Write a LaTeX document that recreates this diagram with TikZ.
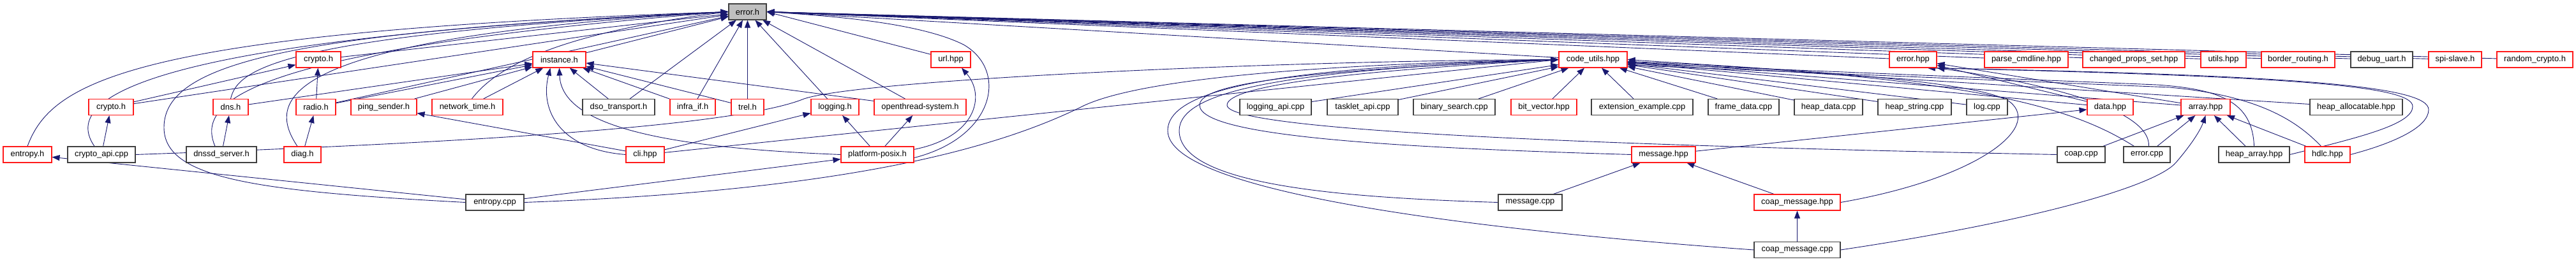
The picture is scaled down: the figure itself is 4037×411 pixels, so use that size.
\documentclass[tikz,border=0pt]{standalone}
\usepackage{fontspec}
\setmainfont{Liberation Sans}
\usetikzlibrary{arrows.meta,backgrounds}
\definecolor{edgeblue}{HTML}{191970}
\definecolor{truncred}{HTML}{FF1A1A}
\definecolor{boxgray}{HTML}{404040}
\definecolor{rootfill}{HTML}{BFBFBF}

\begin{document}
\begin{tikzpicture}[
    x=1pt, y=-1pt,
    font=\fontsize{12.9}{15}\selectfont,
    file/.style={draw=boxgray, fill=white, line width=1.1pt,
                 minimum height=25pt, inner sep=0pt},
    trunc/.style={file, draw=truncred},
    root/.style={file, fill=rootfill},
    dep/.style={edgeblue, line width=0.9pt, -{Triangle[length=12pt,width=9pt]}}
]
\useasboundingbox (0,0) rectangle (4037,411);

% root
\node[root, minimum width=59pt] (errorh) at (1171.5,18.5) {error.h};

% truncated files (red)
\foreach \id/\cx/\cy/\w/\txt in {
    cryptohB/499/93.5/70/crypto.h,
    instanceh/876.5/93.5/83/instance.h,
    urlhpp/1490/93.5/62/url.hpp,
    codeutils/2496.5/93.5/107/code\_utils.hpp,
    errorhpp/2998/93.5/74/error.hpp,
    parsecmd/3175.5/93.5/131/parse\_cmdline.hpp,
    changedprops/3344/93.5/160/changed\_props\_set.hpp,
    utilshpp/3484.5/93.5/71/utils.hpp,
    borderrouting/3601.5/93.5/115/border\_routing.h,
    spislave/3847.5/93.5/83/spi-slave.h,
    randomcrypto/3972.5/93.5/119/random\_crypto.h,
    cryptohA/174/168/70/crypto.h,
    dnsh/361.5/168/55/dns.h,
    radioh/495/168/62/radio.h,
    pingsender/601.5/168/103/ping\_sender.h,
    networktime/732.5/168/111/network\_time.h,
    infraif/1085.5/168/71/infra\_if.h,
    trelh/1171.5/168/51/trel.h,
    loggingh/1308.5/168/75/logging.h,
    otsystem/1442/168/144/openthread-system.h,
    bitvector/2419.5/168/103/bit\_vector.hpp,
    datahpp/3307/168/72/data.hpp,
    arrayhpp/3456.5/168/77/array.hpp,
    entropyh/43/242.5/76/entropy.h,
    diagh/474/242.5/58/diag.h,
    clihpp/1011/242.5/60/cli.hpp,
    posix/1375/242.5/114/platform-posix.h,
    messagehpp/2607/242.5/100/message.hpp,
    hdlchpp/3647.5/242.5/71/hdlc.hpp,
    coapmsghpp/2816.5/317.5/135/coap\_message.hpp}
    \node[trunc, minimum width=\w pt] (\id) at (\cx,\cy) {\txt};

% plain files
\foreach \id/\cx/\cy/\w/\txt in {
    debuguart/3732.5/93.5/97/debug\_uart.h,
    dsotransport/969.5/168/113/dso\_transport.h,
    loggingapi/1999/168/112/logging\_api.cpp,
    taskletapi/2135.5/168/111/tasklet\_api.cpp,
    binsearch/2279/168/128/binary\_search.cpp,
    extexample/2573.5/168/159/extension\_example.cpp,
    framedata/2732.5/168/111/frame\_data.cpp,
    heapdata/2865.5/168/107/heap\_data.cpp,
    heapstring/3000.5/168/115/heap\_string.cpp,
    logcpp/3114/168/64/log.cpp,
    heapalloc/3692.5/168/145/heap\_allocatable.hpp,
    cryptoapi/159/242.5/106/crypto\_api.cpp,
    dnssd/347/242.5/110/dnssd\_server.h,
    coapcpp/3261.5/242.5/75/coap.cpp,
    errorcpp/3364.5/242.5/73/error.cpp,
    heaparray/3532.5/242.5/111/heap\_array.hpp,
    entropycpp/775.5/317.5/91/entropy.cpp,
    messagecpp/2398/317.5/100/message.cpp,
    coapmsgcpp/2816.5/392/135/coap\_message.cpp}
    \node[file, minimum width=\w pt] (\id) at (\cx,\cy) {\txt};

\begin{scope}[on background layer]
% straight includes
\foreach \a/\b in {
    cryptohA/errorh, cryptohB/errorh, radioh/errorh, instanceh/errorh,
    dsotransport/errorh, infraif/errorh, trelh/errorh, loggingh/errorh,
    otsystem/errorh, urlhpp/errorh.east, codeutils/errorh.east,
    errorhpp/errorh.east, parsecmd/errorh.east, changedprops/errorh.east,
    utilshpp/errorh.east, borderrouting/errorh.east, debuguart/errorh.east,
    spislave/errorh.east, randomcrypto/errorh.east,
    dnsh/instanceh, radioh/instanceh, pingsender/instanceh,
    networktime/instanceh, dsotransport/instanceh, infraif/instanceh,
    trelh/instanceh, otsystem/instanceh,
    cryptohA/cryptohB, radioh/cryptohB, cryptoapi/cryptohA, dnssd/dnsh,
    diagh/radioh, entropycpp/entropyh, entropycpp/posix,
    clihpp/pingsender, clihpp/loggingh, clihpp/codeutils.west,
    posix/loggingh, posix/otsystem,
    loggingapi/codeutils, taskletapi/codeutils, binsearch/codeutils,
    bitvector/codeutils, extexample/codeutils, framedata/codeutils,
    heapdata/codeutils, heapstring/codeutils, logcpp/codeutils,
    datahpp/codeutils, arrayhpp/codeutils, heapalloc/codeutils,
    datahpp/errorhpp, arrayhpp/errorhpp, messagehpp/datahpp,
    coapcpp/arrayhpp, errorcpp/arrayhpp, heaparray/arrayhpp, hdlchpp/arrayhpp,
    messagecpp/messagehpp, coapmsghpp/messagehpp, coapmsgcpp/coapmsghpp}
    \draw[dep] (\a) -- (\b);

% routed includes, left part
\draw[dep] (entropyh.north) .. controls (80,130) and (200,50) .. (errorh.west);
\draw[dep] ([xshift=-11pt]cryptoapi.north) .. controls (100,160) and (190,62) .. (errorh.west);
\draw[dep] ([xshift=-10pt]dnssd.north) .. controls (310,165) and (360,80) .. (errorh.west);
\draw[dep] (entropycpp.west) .. controls (400,300) and (257,280) .. (257,200)
    .. controls (257,100) and (450,50) .. (errorh.west);
\draw[dep] (dnsh.north) .. controls (372,110) and (430,55) .. (errorh.west);
\draw[dep] ([xshift=-8pt]diagh.north) .. controls (420,160) and (420,60) .. (errorh.west);
\draw[dep] ([xshift=7pt]networktime.north) .. controls (770,115) and (850,55) .. (errorh.west);
\draw[dep] (clihpp.west) .. controls (880,235) and (845,175) .. ([xshift=-14pt]instanceh.south);
\draw[dep] (posix.west) .. controls (1050,232) and (880,200) .. (instanceh.south);
\draw[dep] (posix.-5) .. controls (1560,215) and (1580,110) .. (1510,70)
    .. controls (1440,35) and (1300,25) .. (errorh.east);
\draw[dep] (posix.8) .. controls (1530,215) and (1545,150) .. ([xshift=17pt]urlhpp.south);
\draw[dep] (cryptoapi.east) .. controls (700,225) and (1150,200) .. (1260,155)
    .. controls (1350,125) and (2000,95) .. (codeutils.west);
\draw[dep] (entropycpp.east) .. controls (1300,300) and (1550,240) .. (1700,165)
    .. controls (1800,120) and (2100,100) .. (codeutils.west);

% loops round the left of code_utils.hpp
\draw[dep] (coapmsgcpp.west) .. controls (2300,360) and (1830,300) .. (1830,205)
    .. controls (1830,140) and (2000,105) .. (codeutils.west);
\draw[dep] (messagecpp.west) .. controls (2100,310) and (1848,290) .. (1848,205)
    .. controls (1848,145) and (2000,110) .. (codeutils.west);
\draw[dep] (messagehpp.west) .. controls (2200,232) and (1880,215) .. (1880,165)
    .. controls (1880,135) and (2000,112) .. (codeutils.west);
\draw[dep] (coapcpp.west) .. controls (2500,228) and (1923,205) .. (1923,165)
    .. controls (1923,140) and (2050,115) .. (codeutils.west);

% routed includes, right part
\draw[dep] (coapmsghpp.east) .. controls (3100,280) and (3200,200) .. (3150,160)
    .. controls (3100,125) and (2800,110) .. (codeutils.east);
\draw[dep] (heaparray.north) .. controls (3530,160) and (3480,140) .. (3380,133)
    -- (codeutils.-6);
\draw[dep] ([xshift=-10pt]hdlchpp.north) .. controls (3600,190) and (3540,150) .. (3400,137)
    -- (codeutils.-9);
\draw[dep] (heaparray.east) .. controls (3700,215) and (3781,195) .. (3781,167)
    .. controls (3781,135) and (3600,120) .. (errorhpp.-30);
\draw[dep] (hdlchpp.east) .. controls (3750,225) and (3806,200) .. (3806,172)
    .. controls (3806,135) and (3600,118) .. (errorhpp.-30);
\draw[dep] (coapmsgcpp.east) .. controls (3200,345) and (3380,290) .. (3410,255)
    .. controls (3440,220) and (3450,200) .. (arrayhpp.south);
\draw[dep] ([xshift=3pt]errorcpp.north) .. controls (3370,170) and (3200,130) .. (errorhpp.south east);
\draw[dep] ([xshift=-20pt]errorcpp.north) .. controls (3250,170) and (3100,120) .. (codeutils.-3);
\end{scope}

\end{tikzpicture}
\end{document}
